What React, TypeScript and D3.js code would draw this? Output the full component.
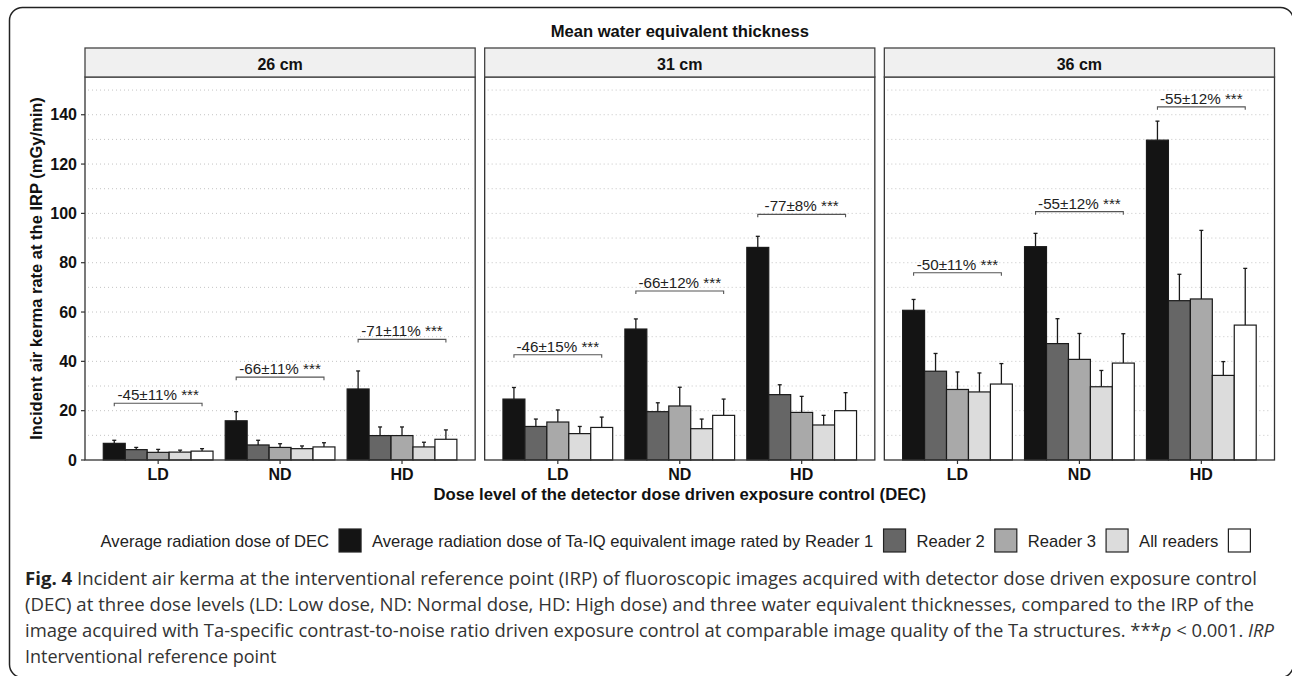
import React from "react";
import * as d3 from "d3";

const panels = ["26 cm", "31 cm", "36 cm"];
const doseLevels = ["LD", "ND", "HD"];
const seriesNames = [
  "Average radiation dose of DEC",
  "Average radiation dose of Ta-IQ equivalent image rated by Reader 1",
  "Reader 2",
  "Reader 3",
  "All readers",
];
const seriesFill = ["#141414", "#666666", "#a9a9a9", "#dcdcdc", "#ffffff"];

// means [dose level][series]
const means26 = [
  [6.75, 4.2, 3.1, 3.2, 3.6],
  [15.9, 6.1, 5.1, 4.6, 5.3],
  [28.8, 9.9, 9.9, 5.3, 8.4],
];
const sd26 = [
  [1.25, 0.9, 1.2, 0.8, 1.0],
  [3.7, 1.9, 1.5, 1.1, 1.7],
  [7.3, 3.5, 3.5, 1.9, 3.8],
];
const means31 = [
  [24.7, 13.6, 15.4, 10.7, 13.2],
  [53.1, 19.6, 21.9, 12.7, 18.1],
  [86.2, 26.5, 19.3, 14.2, 20.0],
];
const sd31 = [
  [4.7, 3.0, 4.9, 2.9, 4.2],
  [4.1, 3.6, 7.6, 3.9, 6.6],
  [4.5, 4.0, 6.5, 3.9, 7.3],
];
const means36 = [
  [60.7, 36.0, 28.6, 27.6, 30.8],
  [86.5, 47.2, 40.8, 29.7, 39.3],
  [129.7, 64.6, 65.3, 34.3, 54.7],
];
const sd36 = [
  [4.4, 7.2, 7.1, 7.7, 8.3],
  [5.4, 10.1, 10.5, 6.6, 11.9],
  [7.7, 10.7, 27.8, 5.6, 23.0],
];
const bracketY26 = [23.0, 33.6, 48.9];
const bracketY31 = [42.7, 68.5, 99.6];
const bracketY36 = [75.9, 100.7, 143.2];
const bracketLabels26 = ["-45±11% ***", "-66±11% ***", "-71±11% ***"];
const bracketLabels31 = ["-46±15% ***", "-66±12% ***", "-77±8% ***"];
const bracketLabels36 = ["-50±11% ***", "-55±12% ***", "-55±12% ***"];
const yTicks = [0, 20, 40, 60, 80, 100, 120, 140];
const yMinor = [10, 30, 50, 70, 90, 110, 130, 150];

const panelMeans = [means26, means31, means36];
const panelSd = [sd26, sd31, sd36];
const panelBracketY = [bracketY26, bracketY31, bracketY36];
const panelBracketLabels = [bracketLabels26, bracketLabels31, bracketLabels36];

const FONT = "'Liberation Sans', Arial, sans-serif";
const CAPFONT = "'Open Sans', 'Noto Sans', sans-serif";

function measure(text: string, font: string): number {
  const c = document.createElement("canvas");
  const ctx = c.getContext("2d")!;
  ctx.font = font;
  return ctx.measureText(text).width;
}

export default function App() {
  const W = 1292, H = 676;
  const plotLeft = 85, plotRight = 1274.5, gap = 9.5;
  const panelW = (plotRight - plotLeft - 2 * gap) / 3;
  const plotTop = 77, plotBottom = 460;
  const stripTop = 48;

  const y = d3.scaleLinear().domain([0, 155.3]).range([plotBottom, plotTop]);

  // legend layout
  const legFont = `16.6px 'Liberation Sans'`;
  const keyW = 22, keyH = 23, gapTK = 10, gapKT = 11;
  const widths = seriesNames.map((s) => measure(s, legFont));
  const total = widths.reduce((a, b) => a + b, 0) + seriesNames.length * (gapTK + keyW) + (seriesNames.length - 1) * gapKT;
  const legCenter = 675.5;
  let cursor = legCenter - total / 2;
  const legItems = seriesNames.map((s, i) => {
    const tx = cursor;
    const kx = tx + widths[i] + gapTK;
    cursor = kx + keyW + gapKT;
    return { s, tx, kx, fill: seriesFill[i] };
  });

  return (
    <svg width={W} height={H} style={{ position: "absolute", left: 0, top: 0, background: "#fff" }}>
      <rect x={9.5} y={7.5} width={1284} height={670} rx={13} fill="#fff" stroke="#222" strokeWidth={1.5} />

      <text x={(plotLeft + plotRight) / 2} y={37} textAnchor="middle" fontFamily={FONT} fontWeight="bold" fontSize={16.6} fill="#111">
        Mean water equivalent thickness
      </text>

      {panels.map((pname, p) => {
        const left = plotLeft + p * (panelW + gap);
        const x = d3.scalePoint<string>().domain(doseLevels).range([left, left + panelW]).padding(0.6);
        const step = x.step();
        const inner = d3.scaleBand<number>().domain(d3.range(5)).range([-0.45 * step, 0.45 * step]).padding(0);
        const bw = inner.bandwidth();
        const means = panelMeans[p];
        const sds = panelSd[p];
        return (
          <g key={pname}>
            <rect x={left} y={plotTop} width={panelW} height={plotBottom - plotTop} fill="#fff" />
            {yMinor.concat(yTicks.slice(1)).map((v) => (
              <line key={v} x1={left + 3} x2={left + panelW - 3} y1={y(v)} y2={y(v)} stroke="#c4c4c4" strokeWidth={1} strokeDasharray="1 3" />
            ))}
            {doseLevels.map((d, di) => (
              <g key={d}>
                {means[di].map((m, si) => {
                  const cx = (x(d) as number) + (inner(si) as number) + bw / 2;
                  const top = y(m + sds[di][si]);
                  return (
                    <g key={si}>
                      <line x1={cx} x2={cx} y1={y(m)} y2={top} stroke="#1a1a1a" strokeWidth={1.3} />
                      <line x1={cx - 2} x2={cx + 2} y1={top} y2={top} stroke="#1a1a1a" strokeWidth={1.3} />
                      <rect x={(x(d) as number) + (inner(si) as number)} y={y(m)} width={bw} height={y(0) - y(m)} fill={seriesFill[si]} stroke="#1a1a1a" strokeWidth={1.2} />
                    </g>
                  );
                })}
                {(() => {
                  const bx1 = (x(d) as number) + (inner(0) as number) + bw / 2;
                  const bx2 = (x(d) as number) + (inner(4) as number) + bw / 2;
                  const by = y(panelBracketY[p][di]);
                  return (
                    <g>
                      <path d={`M${bx1},${by + 3}V${by}H${bx2}V${by + 3}`} fill="none" stroke="#555" strokeWidth={1.1} />
                      <text x={(bx1 + bx2) / 2} y={by - 3} textAnchor="middle" fontFamily={FONT} fontSize={15.2} fill="#222">
                        {panelBracketLabels[p][di]}
                      </text>
                    </g>
                  );
                })()}
              </g>
            ))}
            <rect x={left} y={plotTop} width={panelW} height={plotBottom - plotTop} fill="none" stroke="#333" strokeWidth={1.3} />
            <rect x={left} y={stripTop} width={panelW} height={plotTop - stripTop} fill="#f0f0f0" stroke="#444" strokeWidth={1.3} />
            <text x={left + panelW / 2} y={70} textAnchor="middle" fontFamily={FONT} fontWeight="bold" fontSize={16} fill="#111">
              {pname}
            </text>
            {doseLevels.map((d) => (
              <g key={d}>
                <line x1={x(d)} x2={x(d)} y1={plotBottom} y2={plotBottom + 4} stroke="#333" strokeWidth={1.2} />
                <text x={x(d)} y={480} textAnchor="middle" fontFamily={FONT} fontWeight="bold" fontSize={16} fill="#111">
                  {d}
                </text>
              </g>
            ))}
          </g>
        );
      })}

      {yTicks.map((v) => (
        <g key={v}>
          <line x1={plotLeft - 4} x2={plotLeft} y1={y(v)} y2={y(v)} stroke="#333" strokeWidth={1.2} />
          <text x={77} y={y(v) + 5.7} textAnchor="end" fontFamily={FONT} fontWeight="bold" fontSize={16} fill="#111">
            {v}
          </text>
        </g>
      ))}

      <text transform={`translate(42,${(plotTop + plotBottom) / 2}) rotate(-90)`} textAnchor="middle" fontFamily={FONT} fontWeight="bold" fontSize={16.5} fill="#111">
        Incident air kerma rate at the IRP (mGy/min)
      </text>
      <text x={(plotLeft + plotRight) / 2} y={500} textAnchor="middle" fontFamily={FONT} fontWeight="bold" fontSize={16.7} fill="#111">
        Dose level of the detector dose driven exposure control (DEC)
      </text>

      {legItems.map((it) => (
        <g key={it.s}>
          <text x={it.tx} y={547} fontFamily={FONT} fontSize={16.6} fill="#222">
            {it.s}
          </text>
          <rect x={it.kx} y={529} width={keyW} height={keyH} fill={it.fill} stroke="#222" strokeWidth={1.2} />
        </g>
      ))}

      <g fontFamily={CAPFONT} fontSize={18} fill="#333">
        <text x={25} y={585} textLength={1232} lengthAdjust="spacingAndGlyphs">
          <tspan fontWeight="bold" fill="#222">Fig. 4</tspan>
          <tspan> Incident air kerma at the interventional reference point (IRP) of fluoroscopic images acquired with detector dose driven exposure control</tspan>
        </text>
        <text x={25} y={611} textLength={1229} lengthAdjust="spacingAndGlyphs">
          (DEC) at three dose levels (LD: Low dose, ND: Normal dose, HD: High dose) and three water equivalent thicknesses, compared to the IRP of the
        </text>
        <text x={25} y={637} textLength={1249} lengthAdjust="spacingAndGlyphs">
          <tspan>image acquired with Ta-specific contrast-to-noise ratio driven exposure control at comparable image quality of the Ta structures. ***</tspan>
          <tspan fontStyle="italic">p</tspan>
          <tspan> &lt; 0.001. </tspan>
          <tspan fontStyle="italic">IRP</tspan>
        </text>
        <text x={25} y={663}>Interventional reference point</text>
      </g>
    </svg>
  );
}
